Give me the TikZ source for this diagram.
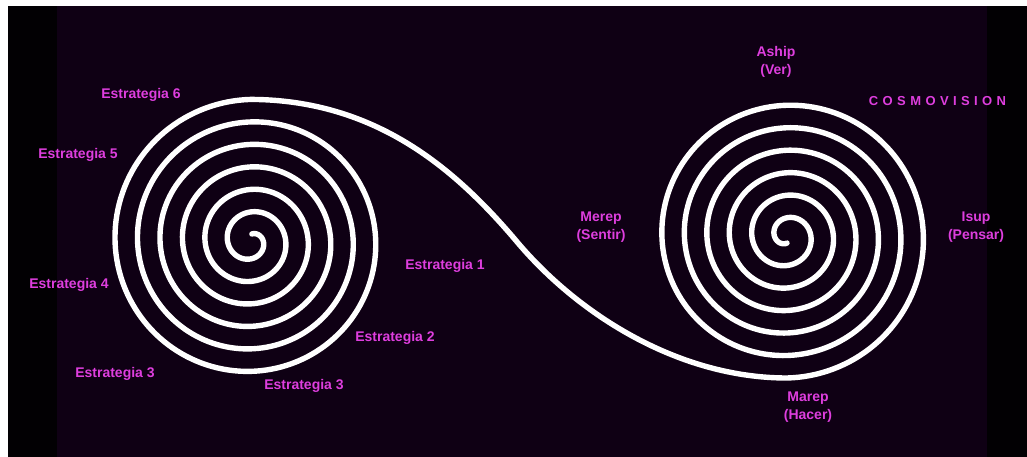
\documentclass[tikz,border=0pt]{standalone}
\usepackage{fontspec}
\setmainfont{Liberation Sans}
\definecolor{bgpurple}{RGB}{15,0,20}
\definecolor{bandblack}{RGB}{2,0,3}
\definecolor{labelmag}{RGB}{222,62,222}
\newcommand\spacedword{C\kern4.4pt O\kern4.4pt S\kern4.4pt M\kern4.4pt O\kern4.4pt V\kern4.4pt I\kern4.4pt S\kern4.4pt I\kern4.4pt O\kern4.4pt N}
\begin{document}
\begin{tikzpicture}[x=1pt,y=-1pt,
  lbl/.style={text=labelmag,font=\fontsize{14}{18.5}\selectfont\bfseries,align=center,inner sep=0pt},
  title/.style={text=labelmag,font=\fontsize{13}{15}\selectfont\bfseries,inner sep=0pt},
  spiralline/.style={draw=white,line width=5.4pt,line join=round,line cap=round}]
\useasboundingbox (0,0) rectangle (1027,457);
% background
\fill[white] (0,0) rectangle (1027,457);
\fill[bandblack] (8,6) rectangle (1027,457);
\fill[bgpurple] (57,6) rectangle (987,457);
% end points of the connecting tail
\coordinate (ltop) at (251,99.4);
\coordinate (rbot) at (787,378);
% double spiral as one path
\draw[spiralline]
  plot[domain=2243:90,samples=900] ({251+(141.6-0.0625*(\x-90))*cos(\x)},{241-(141.6-0.0625*(\x-90))*sin(\x)})
  .. controls (375,100) and (455,168) .. (518,243)
  .. controls (580,316) and (680,378) .. (rbot)
  -- plot[domain=270:2430,samples=900] ({787+(142-0.0625*(\x-270))*cos(\x)},{236-(142-0.0625*(\x-270))*sin(\x)});
% labels
\node[lbl] (e6) at (141,95) {Estrategia 6};
\node[lbl] (e5) at (78,155) {Estrategia 5};
\node[lbl] (e4) at (69,285) {Estrategia 4};
\node[lbl] (e3a) at (115,374) {Estrategia 3};
\node[lbl] (e3b) at (304,386) {Estrategia 3};
\node[lbl] (e2) at (395,338) {Estrategia 2};
\node[lbl] (e1) at (445,266) {Estrategia 1};
\node[lbl] (merep) at (601,227) {Merep\\(Sentir)};
\node[lbl] (aship) at (776,62) {Aship\\(Ver)};
\node[lbl] (isup) at (976,227) {Isup\\(Pensar)};
\node[lbl] (marep) at (808,407) {Marep\\(Hacer)};
\node[title] (cosmo) at (937.5,101) {\spacedword};
\end{tikzpicture}
\end{document}
